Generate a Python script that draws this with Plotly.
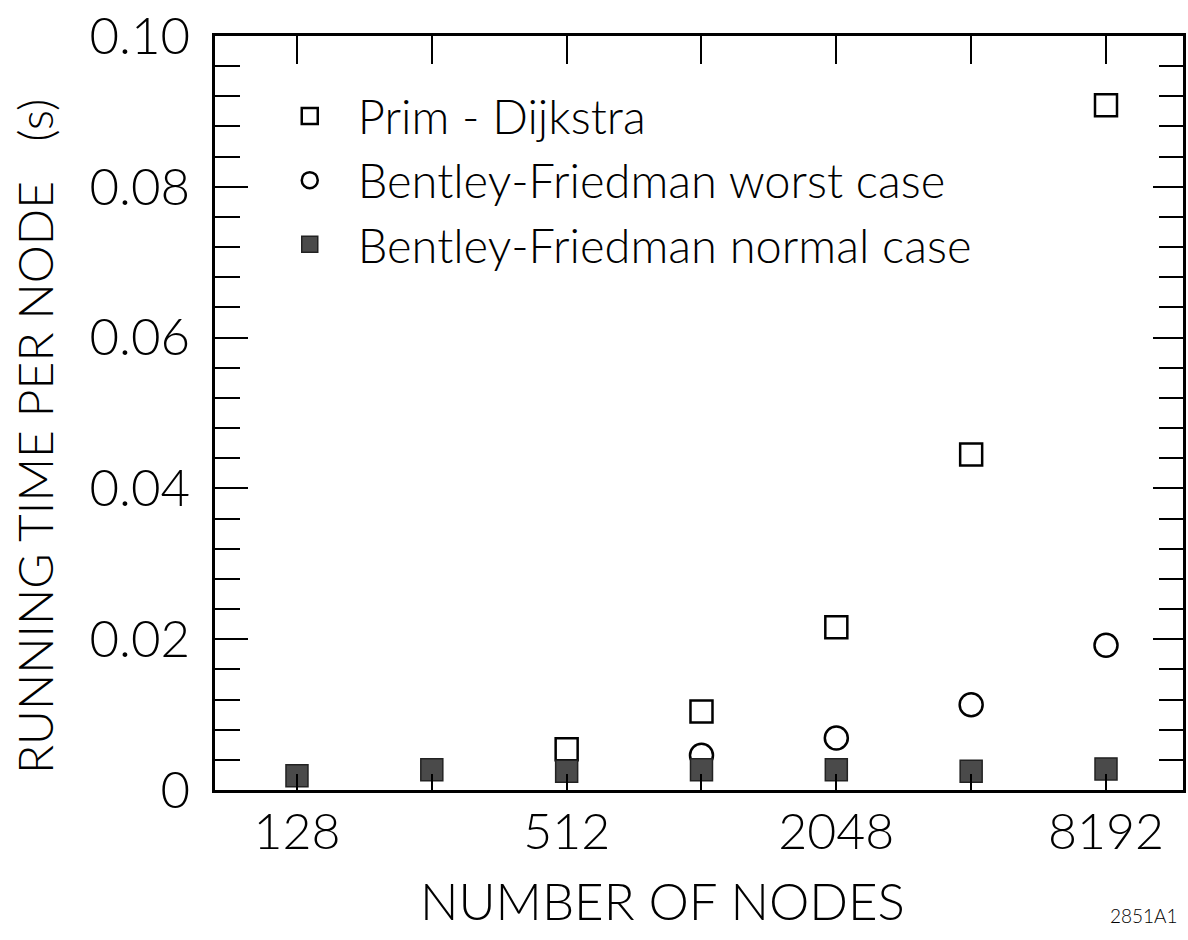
import plotly.graph_objects as go

nodes = [128, 256, 512, 1024, 2048, 4096, 8192]
prim_x = [512, 1024, 2048, 4096, 8192]
prim_y = [0.0054, 0.0104, 0.0216, 0.0445, 0.0908]
worst_x = [1024, 2048, 4096, 8192]
worst_y = [0.0046, 0.0069, 0.0113, 0.0192]
normal_x = [128, 256, 512, 1024, 2048, 4096, 8192]
normal_y = [0.0019, 0.0027, 0.0025, 0.0027, 0.0027, 0.0025, 0.0028]
x_tick_vals = [128, 256, 512, 1024, 2048, 4096, 8192]
x_tick_text = ["128", "", "512", "", "2048", "", "8192"]
y_tick_vals = [0, 0.02, 0.04, 0.06, 0.08, 0.10]
y_tick_text = ["0", "0.02", "0.04", "0.06", "0.08", "0.10"]

FONT = "Lato, 'DejaVu Sans', sans-serif"
W = 300
fig = go.Figure()

fig.add_trace(go.Scatter(
    x=prim_x, y=prim_y, mode="markers", name="Prim - Dijkstra",
    marker=dict(symbol="square", size=22, color="white",
                line=dict(color="black", width=2.5)),
))
fig.add_trace(go.Scatter(
    x=worst_x, y=worst_y, mode="markers", name="Bentley-Friedman worst case",
    marker=dict(symbol="circle", size=23, color="white",
                line=dict(color="black", width=2.5)),
))
fig.add_trace(go.Scatter(
    x=normal_x, y=normal_y, mode="markers", name="Bentley-Friedman normal case",
    marker=dict(symbol="square", size=22, color="#4a4a4a",
                line=dict(color="#222222", width=1.5)),
))
# invisible trace to anchor the top/right axes
fig.add_trace(go.Scatter(x=[nodes[0]], y=[0], xaxis="x2", yaxis="y2",
                         mode="markers", marker=dict(opacity=0),
                         showlegend=False, hoverinfo="skip"))

xr = [1.9242, 4.0853]
fig.update_layout(
    width=1188, height=940,
    margin=dict(l=215, r=5, t=36, b=150, autoexpand=False),
    paper_bgcolor="white", plot_bgcolor="white",
    font=dict(family=FONT, color="black", weight=W),
    showlegend=True,
    legend=dict(x=0.0483, y=0.943, xanchor="left", yanchor="top",
                font=dict(size=47, family=FONT, weight=W), itemwidth=86,
                bgcolor="rgba(0,0,0,0)", tracegroupgap=0),
    xaxis=dict(type="log", range=xr, tickmode="array", automargin=False,
               tickvals=x_tick_vals, ticktext=x_tick_text,
               ticks="inside", ticklen=16, tickwidth=2, tickcolor="black",
               showline=True, linewidth=2.5, linecolor="black",
               showgrid=False, zeroline=False, ticklabeloverflow="allow",
               tickfont=dict(size=50, family=FONT, weight=W), ticklabelstandoff=-4),
    xaxis2=dict(type="log", range=xr, overlaying="x", side="top", automargin=False,
                tickmode="array", tickvals=x_tick_vals, showticklabels=False,
                ticks="inside", ticklen=28, tickwidth=2, tickcolor="black",
                showline=True, linewidth=2.5, linecolor="black",
                showgrid=False, zeroline=False),
    yaxis=dict(range=[0, 0.1], tickmode="array", tickvals=y_tick_vals,
               ticktext=y_tick_text, automargin=False,
               ticks="inside", ticklen=33, tickwidth=2, tickcolor="black",
               minor=dict(dtick=0.004, tick0=0, ticks="inside", ticklen=25,
                          tickwidth=2, tickcolor="black"),
               showline=True, linewidth=2.5, linecolor="black",
               showgrid=False, zeroline=False, ticklabeloverflow="allow",
               tickfont=dict(size=51, family=FONT, weight=W), ticklabelstandoff=12),
    yaxis2=dict(range=[0, 0.1], overlaying="y", side="right", automargin=False,
                tickmode="array", tickvals=y_tick_vals, showticklabels=False,
                ticks="inside", ticklen=30,  tickwidth=2, tickcolor="black",
                minor=dict(dtick=0.004, tick0=0, ticks="inside", ticklen=24,
                           tickwidth=2, tickcolor="black"),
                showline=True, linewidth=2.5, linecolor="black",
                showgrid=False, zeroline=False),
    annotations=[
        dict(text="NUMBER OF NODES", xref="paper", yref="paper",
             x=0.4618, y=-0.1459, xanchor="center", yanchor="middle",
             showarrow=False, font=dict(size=51, family=FONT, weight=W)),
        dict(text="RUNNING TIME PER NODE&nbsp;&nbsp;&nbsp;(s)", xref="paper", yref="paper",
             x=-0.186, y=0.4695, xanchor="center", yanchor="middle",
             textangle=-90, showarrow=False, font=dict(size=48, family=FONT, weight=W)),
        dict(text="2851A1", xref="paper", yref="paper",
             x=0.997, y=-0.166, xanchor="right", yanchor="middle",
             showarrow=False, font=dict(size=19, family=FONT)),
    ],
)

fig.write_html("out.html", config={"displayModeBar": False},
               post_script="document.body.style.margin='0';")
